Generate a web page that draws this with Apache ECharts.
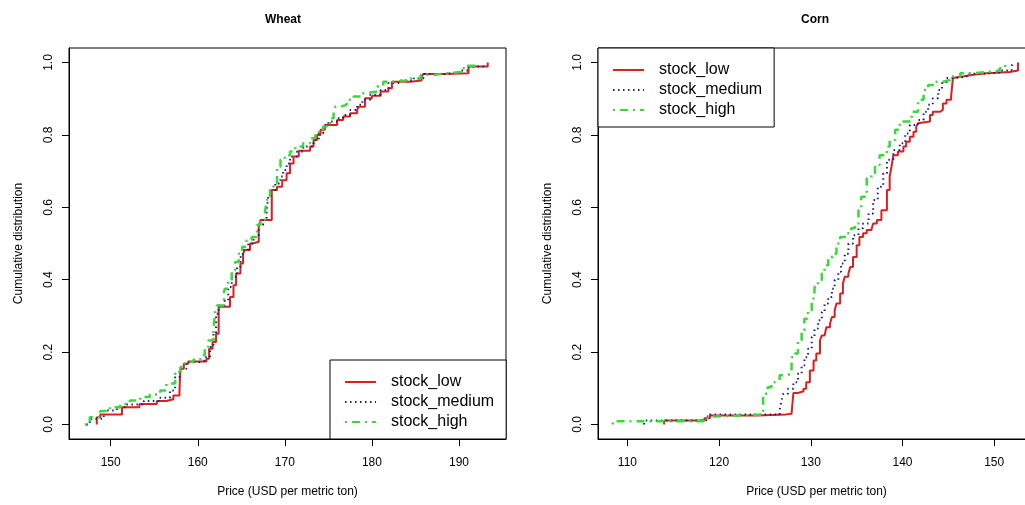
<!DOCTYPE html>
<html>
<head>
<meta charset="utf-8">
<script src="https://cdn.jsdelivr.net/npm/echarts@6/dist/echarts.min.js"></script>
<style>
html,body{margin:0;padding:0;background:#fff;}
#chart{width:1025px;height:505px;}
</style>
</head>
<body>
<div id="chart"></div>
<script>
// ---- data ----
const seriesNames = ['stock_low', 'stock_medium', 'stock_high'];
const panelTitles = ['Wheat', 'Corn'];
const xAxisTitle = 'Price (USD per metric ton)';
const yAxisTitle = 'Cumulative distribution';
const wheatTicks = [150, 160, 170, 180, 190];
const cornTicks = [110, 120, 130, 140, 150];
const probTicks = [0, 0.2, 0.4, 0.6, 0.8, 1.0];

// ECDF step points: [price, cumulative probability]
const wheatLow = [
  [148.4,0],[148.4,0.020],[148.8,0.028],[151.3,0.048],[153.3,0.057],[155.3,0.065],[156.4,0.070],
  [157.2,0.080],[157.9,0.094],[158.0,0.154],[158.4,0.168],[158.9,0.174],[161.0,0.182],[161.3,0.209],
  [161.7,0.228],[162.1,0.251],[162.4,0.325],[163.7,0.352],[164.1,0.385],[164.4,0.417],[164.9,0.445],
  [165.2,0.472],[165.4,0.482],[166.0,0.500],[166.3,0.505],[167.0,0.546],[167.2,0.565],[168.5,0.648],
  [169.1,0.657],[169.7,0.675],[170.2,0.694],[170.6,0.721],[171.0,0.740],[171.6,0.756],[172.9,0.768],
  [173.3,0.786],[173.7,0.800],[174.1,0.814],[174.6,0.827],[176.0,0.841],[176.7,0.851],[177.5,0.860],
  [178.3,0.869],[178.5,0.878],[179.2,0.901],[180.0,0.908],[181.0,0.920],[181.9,0.929],[182.3,0.947],
  [184.4,0.950],[185.7,0.961],[185.9,0.968],[188.2,0.970],[191.1,0.989],[193.3,1.0]
];
const wheatMedium = [
  [147.2,0],[147.6,0.016],[149.2,0.039],[150.7,0.048],[151.8,0.055],[153.8,0.065],[155.7,0.074],
  [156.8,0.094],[157.4,0.131],[157.9,0.154],[158.7,0.173],[160.3,0.177],[160.8,0.186],[161.4,0.214],
  [161.8,0.251],[162.1,0.306],[162.4,0.329],[163.1,0.343],[163.5,0.380],[163.9,0.408],[164.5,0.435],
  [164.9,0.463],[165.2,0.482],[165.8,0.500],[166.4,0.518],[167.0,0.551],[167.5,0.565],[167.9,0.592],
  [168.1,0.629],[168.4,0.648],[168.9,0.666],[169.5,0.685],[169.8,0.703],[170.2,0.721],[170.6,0.740],
  [171.4,0.754],[172.1,0.768],[173.3,0.786],[173.9,0.804],[174.4,0.827],[175.0,0.837],[176.0,0.846],
  [176.7,0.855],[177.5,0.869],[178.3,0.883],[178.9,0.897],[179.8,0.911],[181.0,0.924],[181.9,0.943],
  [183.3,0.950],[184.8,0.956],[185.9,0.968],[188.2,0.972],[190.2,0.978],[191.1,0.989],[192.8,1.0]
];
const wheatHigh = [
  [147.05,0],[147.6,0.020],[148.8,0.037],[149.9,0.048],[151.1,0.057],[152.2,0.066],[153.4,0.076],
  [154.5,0.083],[155.7,0.094],[156.4,0.113],[157.4,0.140],[158.0,0.159],[158.5,0.173],[159.5,0.179],
  [160.3,0.191],[160.8,0.214],[161.2,0.232],[161.8,0.260],[162.0,0.315],[162.2,0.329],[163.0,0.362],
  [163.1,0.375],[163.5,0.399],[163.9,0.426],[164.3,0.449],[164.7,0.472],[165.1,0.491],[165.6,0.509],
  [166.2,0.518],[166.8,0.551],[167.2,0.565],[167.7,0.583],[167.9,0.620],[168.3,0.648],[168.7,0.666],
  [169.1,0.712],[169.5,0.731],[170.0,0.744],[170.6,0.754],[171.2,0.768],[172.1,0.777],[172.9,0.791],
  [173.5,0.800],[173.9,0.809],[174.4,0.823],[174.8,0.832],[175.2,0.846],[175.6,0.864],[175.8,0.878],
  [176.4,0.883],[177.1,0.897],[177.9,0.906],[178.7,0.915],[179.4,0.920],[180.6,0.934],[181.3,0.947],
  [182.5,0.950],[184.0,0.956],[185.6,0.966],[187.1,0.970],[188.6,0.974],[190.2,0.984],[190.9,0.991],
  [191.9,1.0]
];
const cornLow = [
  [114.0,0],[114.0,0.011],[118.4,0.017],[119.0,0.025],[124.1,0.028],[127.3,0.030],[127.9,0.034],
  [128.1,0.087],[128.6,0.092],[129.2,0.099],[129.5,0.117],[129.9,0.149],[130.3,0.177],[130.6,0.196],
  [131.0,0.232],[131.2,0.246],[131.5,0.251],[131.7,0.269],[132.1,0.279],[132.3,0.297],[132.6,0.315],
  [132.8,0.334],[133.2,0.362],[133.5,0.389],[133.7,0.408],[134.1,0.417],[134.3,0.435],[134.6,0.463],
  [135.0,0.495],[135.3,0.518],[135.7,0.528],[136.1,0.537],[136.6,0.542],[136.8,0.555],[137.2,0.565],
  [137.7,0.592],[138.3,0.648],[138.6,0.685],[138.8,0.712],[139.0,0.744],[139.5,0.754],[140.1,0.768],
  [140.4,0.781],[140.8,0.795],[141.2,0.809],[141.5,0.823],[141.7,0.832],[141.9,0.837],[143.0,0.855],
  [143.3,0.864],[144.1,0.869],[144.4,0.887],[144.8,0.897],[145.3,0.906],[145.5,0.957],[145.7,0.961],
  [146.6,0.966],[147.7,0.970],[149.2,0.974],[151.7,0.978],[152.6,1.0]
];
const cornMedium = [
  [111.8,0],[111.9,0.011],[118.6,0.022],[119.0,0.028],[126.6,0.039],[126.8,0.066],[127.0,0.085],
  [127.5,0.099],[128.1,0.117],[128.6,0.140],[129.0,0.163],[129.3,0.186],[129.7,0.209],[130.1,0.242],
  [130.4,0.265],[130.8,0.288],[131.2,0.311],[131.5,0.334],[131.9,0.352],[132.3,0.375],[132.6,0.399],
  [133.0,0.422],[133.3,0.445],[133.7,0.472],[134.1,0.500],[134.6,0.523],[135.2,0.542],[135.7,0.555],
  [136.3,0.583],[136.8,0.620],[137.3,0.657],[137.9,0.694],[138.3,0.731],[139.0,0.758],[139.7,0.777],
  [140.3,0.804],[140.8,0.827],[141.7,0.841],[142.3,0.864],[142.8,0.883],[143.3,0.901],[143.9,0.924],
  [144.3,0.943],[144.8,0.957],[145.5,0.961],[147.0,0.969],[148.8,0.972],[150.6,0.978],[151.9,0.991],
  [152.1,1.0]
];
const cornHigh = [
  [108.4,0],[108.4,0.009],[118.3,0.017],[118.6,0.022],[119.0,0.027],[124.8,0.085],[125.3,0.103],
  [125.7,0.117],[126.3,0.122],[126.6,0.136],[127.3,0.140],[127.9,0.186],[128.3,0.196],[128.6,0.232],
  [129.0,0.260],[129.3,0.292],[129.7,0.315],[130.1,0.348],[130.4,0.380],[130.8,0.399],[131.2,0.417],
  [131.5,0.440],[131.9,0.463],[132.4,0.472],[132.8,0.500],[133.2,0.518],[133.9,0.528],[134.4,0.542],
  [134.8,0.555],[135.2,0.592],[135.5,0.629],[136.1,0.680],[136.6,0.694],[137.0,0.717],[137.5,0.744],
  [138.3,0.768],[138.6,0.786],[139.2,0.814],[139.7,0.837],[141.0,0.864],[141.7,0.897],[142.3,0.924],
  [142.8,0.938],[143.5,0.947],[144.4,0.952],[145.2,0.961],[146.3,0.970],[147.7,0.974],[149.2,0.978],
  [150.6,0.984],[151.2,1.0]
];

// ---- styles ----
const FONT = '"Liberation Sans", Arial, Helvetica, sans-serif';
const lineStyles = [
  { color: '#dc1f1f', width: 2, type: 'solid' },
  { color: '#1c1c8a', width: 2, type: [1.5, 3.5] },
  { color: '#3ad83a', width: 2.5, type: [2, 5, 8, 5] }
];

const panels = [
  { data: [wheatLow, wheatMedium, wheatHigh], ticks: wheatTicks, min: 145.21, max: 195.40, left: 69, right: 519, titleX: 278 },
  { data: [cornLow, cornMedium, cornHigh], ticks: cornTicks, min: 106.79, max: 154.45, left: 598, right: -10, titleX: 810 }
];

const grids = [], xAxes = [], yAxes = [], series = [], titles = [];
panels.forEach((p, i) => {
  grids.push({ left: p.left, right: p.right, top: 48, bottom: 66, show: true, borderColor: '#000', borderWidth: 1,
    containLabel: false, outerBoundsMode: 'none' });
  xAxes.push({
    gridIndex: i, type: 'value', min: p.min, max: p.max,
    axisLine: { show: true, onZero: false, lineStyle: { color: '#000', width: 1 } },
    axisTick: { show: true, length: 7, customValues: p.ticks, lineStyle: { color: '#000' } },
    axisLabel: { customValues: p.ticks, color: '#000', fontSize: 12, fontFamily: FONT, margin: 18 },
    splitLine: { show: false },
    name: xAxisTitle, nameLocation: 'middle', nameGap: 47,
    nameTextStyle: { color: '#000', fontSize: 12, fontFamily: FONT }
  });
  yAxes.push({
    gridIndex: i, type: 'value', min: -0.04, max: 1.04,
    axisLine: { show: true, lineStyle: { color: '#000', width: 1 } },
    axisTick: { show: true, length: 7, customValues: probTicks, lineStyle: { color: '#000' } },
    axisLabel: { customValues: probTicks, rotate: 90, color: '#000', fontSize: 12, fontFamily: FONT, margin: 14,
      formatter: v => Number(v).toFixed(1) },
    splitLine: { show: false },
    name: yAxisTitle, nameLocation: 'middle', nameGap: 44, nameRotate: 90,
    nameTextStyle: { color: '#000', fontSize: 12, fontFamily: FONT }
  });
  p.data.forEach((d, k) => {
    series.push({
      type: 'line', name: seriesNames[k], data: d, xAxisIndex: i, yAxisIndex: i,
      step: 'end', symbol: 'none', showSymbol: false, lineStyle: lineStyles[k],
      itemStyle: { color: lineStyles[k].color }, z: 2 + k, animation: false
    });
  });
  titles.push({
    text: panelTitles[i], left: p.titleX, top: 9, textAlign: 'center',
    textStyle: { fontSize: 12, fontWeight: 'bold', color: '#000', fontFamily: FONT }
  });
});

function makeLegend(left, top) {
  return {
    left: left, top: top, orient: 'vertical', data: seriesNames, selectedMode: false,
    itemWidth: 31, itemHeight: 14, itemGap: 4, padding: [14, 12, 9, 14],
    borderColor: '#000', borderWidth: 1, backgroundColor: '#fff', borderRadius: 0,
    itemStyle: { color: 'rgba(0,0,0,0)', borderWidth: 0, opacity: 0 },
    textStyle: { fontSize: 16, color: '#000', fontFamily: FONT, padding: [0, 0, 0, 10] }
  };
}
const legends = [makeLegend(330, 360), makeLegend(598, 48)];

const chart = echarts.init(document.getElementById('chart'), null, { renderer: 'canvas' });
chart.setOption({
  animation: false,
  backgroundColor: '#fff',
  title: titles,
  legend: legends,
  grid: grids,
  xAxis: xAxes,
  yAxis: yAxes,
  series: series
});
</script>
</body>
</html>
